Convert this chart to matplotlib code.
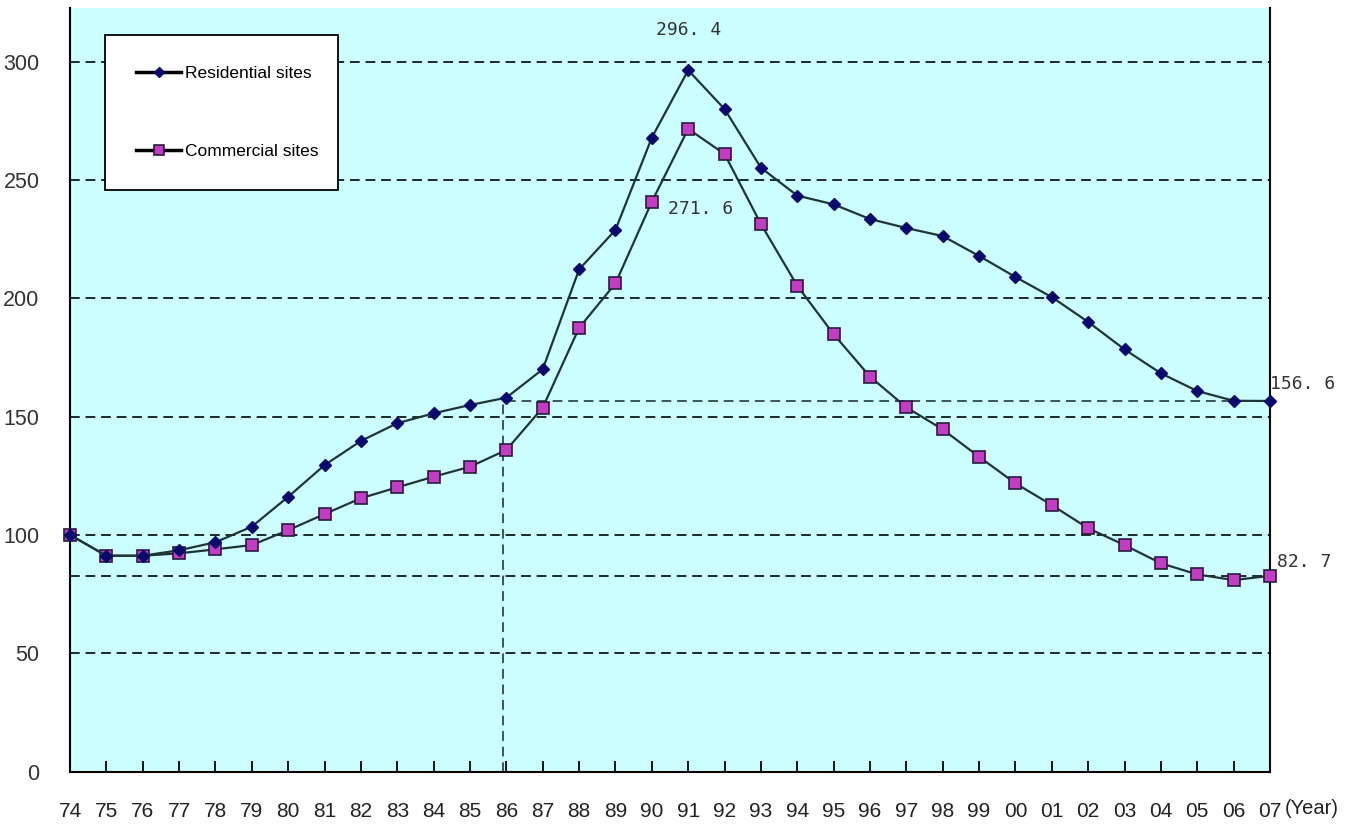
import matplotlib
matplotlib.use("Agg")
import matplotlib.pyplot as plt

years = list(range(1974, 2008))
year_labels = ["74", "75", "76", "77", "78", "79", "80", "81", "82", "83", "84", "85",
               "86", "87", "88", "89", "90", "91", "92", "93", "94", "95", "96", "97",
               "98", "99", "00", "01", "02", "03", "04", "05", "06", "07"]
residential = [100, 91.2, 91.2, 93.5, 96.9, 103.5, 116.1, 129.5, 139.7, 147.2, 151.4, 154.9,
               158.0, 170.0, 212.2, 228.9, 267.9, 296.4, 280.0, 255.2, 243.4, 239.7, 233.5,
               229.7, 226.3, 217.9, 209.0, 200.5, 190.0, 178.4, 168.3, 160.8, 156.7, 156.6]
commercial = [100, 91.2, 91.2, 92.2, 93.9, 95.7, 102.0, 108.8, 115.5, 120.1, 124.6, 128.8,
              135.9, 153.8, 187.5, 206.3, 240.8, 271.6, 261.0, 231.4, 205.3, 184.8, 166.9,
              153.9, 144.6, 133.0, 121.8, 112.6, 102.8, 95.7, 88.0, 83.3, 80.9, 82.7]
y_ticks = [0, 50, 100, 150, 200, 250, 300]
ref_year = 1986
ref_res = 156.6
ref_com = 82.7

sans = ["Liberation Sans", "DejaVu Sans"]

fig = plt.figure(figsize=(13.6, 8.34), dpi=100)
ax = fig.add_axes([70 / 1360, 1 - 771.5 / 834, 1200 / 1360, 763.5 / 834])
ax.set_facecolor("#CCFFFF")
ax.set_xlim(1974, 2007)
ax.set_ylim(0, 322.7)

dash = (0, (5, 3))
grid_kw = dict(color="#1a2a2a", lw=1.4, linestyle=dash, zorder=1)
for v in y_ticks[1:]:
    ax.axhline(v, **grid_kw)
ax.axhline(ref_com, **grid_kw)
ax.plot([ref_year, 2007], [ref_res, ref_res], color="#3a5555", lw=1.4, linestyle=dash, zorder=1)
ax.plot([ref_year - 0.1, ref_year - 0.1], [0, ref_res], color="#3a5555", lw=1.4, linestyle=dash, zorder=1)

line_col = "#1E3535"
ax.plot(years, residential, color=line_col, lw=1.6, marker="D", markersize=6.5,
        markerfacecolor="#0A0A6E", markeredgecolor="#0A0A6E", zorder=4,
        label="Residential sites", clip_on=False)
ax.plot(years, commercial, color=line_col, lw=1.6, marker="s", markersize=8.5,
        markerfacecolor="#C43CC4", markeredgecolor="#2A1A40", markeredgewidth=1.2, zorder=3,
        label="Commercial sites", clip_on=False)

for s in ["left", "bottom", "right"]:
    ax.spines[s].set_color("black")
    ax.spines[s].set_linewidth(1.5)
ax.spines["top"].set_visible(False)

ax.set_xticks(years)
ax.set_xticklabels(year_labels, family=sans, fontsize=15, color="#222222")
ax.tick_params(axis="x", direction="in", length=8, width=1.3, pad=22)
ax.set_yticks(y_ticks)
ax.set_yticklabels([str(v) for v in y_ticks], family=sans, fontsize=15.5, color="#333333")
ax.tick_params(axis="y", length=0, pad=22)

fig.text(1285 / 1360, 1 - 808 / 834, "(Year)", family=sans,
         fontsize=14.5, color="#222222", ha="left", va="center")

mono = ["DejaVu Sans Mono"]
ax.text(1991, 296.4 + 17, "296. 4", family=mono, fontsize=13, color="#333333", ha="center", va="center")
ax.text(1991.35, 271.6 - 34, "271. 6", family=mono, fontsize=13, color="#333333", ha="center", va="center")
ax.text(2007, ref_res + 7, "156. 6", family=mono, fontsize=13, color="#333333", ha="left", va="center",
        clip_on=False)
ax.text(2007.2, ref_com + 6, "82. 7", family=mono, fontsize=13, color="#333333", ha="left", va="center",
        clip_on=False)

leg = ax.legend(loc="upper left", bbox_to_anchor=(0.029, 0.9646, 0.194, 0.0), mode="expand",
                frameon=True, fancybox=False, edgecolor="black", facecolor="white", framealpha=1,
                prop={"family": sans, "size": 12.5},
                handlelength=2.6, handletextpad=0.2, labelspacing=3.6, borderpad=1.8,
                borderaxespad=0, markerscale=0.8)
leg.get_frame().set_linewidth(1.3)
for line in leg.get_lines():
    line.set_color("black")
    line.set_linewidth(2.5)
leg.set_zorder(6)

fig.savefig("out.png", dpi=100, facecolor="white")
